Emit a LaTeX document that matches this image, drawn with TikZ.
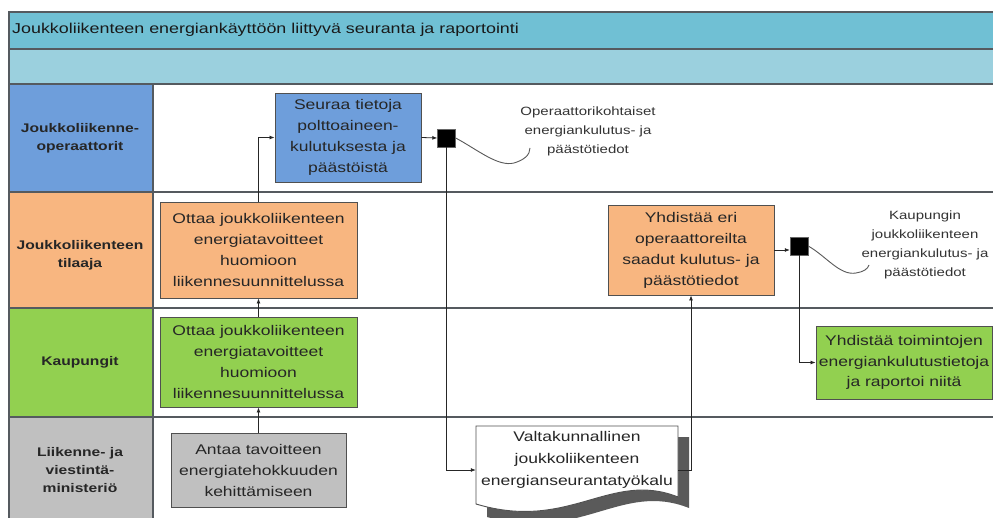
\documentclass[tikz,border=0pt]{standalone}
\usepackage{fontspec}
\setmainfont{Liberation Sans}[FakeStretch=1.25]
\usetikzlibrary{arrows.meta}
\definecolor{titlec}{RGB}{112,192,212}
\definecolor{subc}{RGB}{155,208,222}
\definecolor{bluec}{RGB}{110,158,219}
\definecolor{orangec}{RGB}{248,182,128}
\definecolor{greenc}{RGB}{146,208,80}
\definecolor{grayc}{RGB}{192,192,192}
\definecolor{frameline}{RGB}{85,90,95}
\definecolor{boxline}{RGB}{80,80,80}
\definecolor{shadowc}{RGB}{90,90,90}
\begin{document}
\begin{tikzpicture}[x=1pt,y=-1pt,
  box/.style={draw=boxline, line width=0.9pt, inner sep=0pt, align=center,
    font=\fontsize{14}{21}\selectfont, text=black!85},
  lanelab/.style={align=center, font=\bfseries\fontsize{12.5}{18}\selectfont, text=black!85},
  ann/.style={align=center, font=\fontsize{12}{19}\selectfont, text=black!80},
  conn/.style={draw=black!85, line width=0.8pt, -{Latex[length=5pt,width=4pt]}},
  annline/.style={draw=black!65, line width=0.9pt},
  sqbox/.style={fill=black, draw=black!60, minimum size=18pt, inner sep=0pt},
  frame/.style={draw=frameline, line width=1.4pt}]
\useasboundingbox (0,0) rectangle (993,518);
\clip (0,0) rectangle (993,518);
\fill[white] (0,0) rectangle (993,518);
% header bands
\filldraw[frame, fill=titlec] (9,12) rectangle (1000,49);
\filldraw[frame, fill=subc] (9,49) rectangle (1000,84);
\node[anchor=west, font=\fontsize{14.3}{16}\selectfont, text=black!90, inner sep=0pt] (title) at (12,30)
  {Joukkoliikenteen energiankäyttöön liittyvä seuranta ja raportointi};
% lanes
\filldraw[frame, fill=bluec] (9,84) rectangle (153,192);
\filldraw[frame, fill=orangec] (9,192) rectangle (153,308);
\filldraw[frame, fill=greenc] (9,308) rectangle (153,417);
\filldraw[frame, fill=grayc] (9,417) rectangle (153,530);
\draw[frame] (153,84) rectangle (1000,192);
\draw[frame] (153,192) rectangle (1000,308);
\draw[frame] (153,308) rectangle (1000,417);
\draw[frame] (153,417) rectangle (1000,530);
% lane labels
\node[lanelab] (l1) at (80,138) {Joukkoliikenne-\\operaattorit};
\node[lanelab] (l2) at (80,255) {Joukkoliikenteen\\tilaaja};
\node[lanelab] (l3) at (80,362) {Kaupungit};
\node[lanelab] (l4) at (80,470) {Liikenne- ja\\viestintä-\\ministeriö};
% boxes
\node[box, fill=bluec, minimum width=146pt, minimum height=89pt] (seuraa) at (348,137.5)
  {Seuraa tietoja\\polttoaineen-\\kulutuksesta ja\\päästöistä};
\node[box, fill=orangec, minimum width=197pt, minimum height=96pt] (tilaaja1) at (258.5,250)
  {Ottaa joukkoliikenteen\\energiatavoitteet\\huomioon\\liikennesuunnittelussa};
\node[box, fill=greenc, minimum width=197pt, minimum height=90pt] (kaup1) at (258.5,362)
  {Ottaa joukkoliikenteen\\energiatavoitteet\\huomioon\\liikennesuunnittelussa};
\node[box, fill=grayc, minimum width=175pt, minimum height=74pt] (lvm) at (258.5,470)
  {Antaa tavoitteen\\energiatehokkuuden\\kehittämiseen};
\node[box, fill=orangec, minimum width=166pt, minimum height=90pt] (tilaaja2) at (691,250)
  {Yhdistää eri\\operaattoreilta\\saadut kulutus- ja\\päästötiedot};
\node[box, fill=greenc, minimum width=176pt, minimum height=73pt, font=\fontsize{14}{20.5}\selectfont] (kaup2) at (904,362.5)
  {Yhdistää toimintojen\\energiankulutustietoja\\ja raportoi niitä};
% document shape
\fill[shadowc] (487,437) -- (689,437) -- (689,508) .. controls (621,481) and (581,543) .. (487,517) -- cycle;
\filldraw[fill=white, draw=boxline, line width=0.9pt]
  (476,426) -- (678,426) -- (678,497) .. controls (610,470) and (570,532) .. (476,504) -- cycle;
\node[minimum width=202pt, minimum height=88pt, inner sep=0pt] (doc) at (577,470) {};
\node[align=center, font=\fontsize{14}{22}\selectfont, text=black!85] (doctext) at (577,460)
  {Valtakunnallinen\\joukkoliikenteen\\energianseurantatyökalu};
% squares
\node[sqbox] (sq1) at (446.5,138) {};
\node[sqbox] (sq2) at (799,246) {};
% annotations
\node[ann] (ann1) at (588,131) {Operaattorikohtaiset\\energiankulutus- ja\\päästötiedot};
\node[ann] (ann2) at (925,245) {Kaupungin\\joukkoliikenteen\\energiankulutus- ja\\päästötiedot};
\coordinate (a1end) at (530,148);
\coordinate (a2end) at (869,265);
\draw[annline] (sq1.east) .. controls (478,150) and (498,167) .. (514,163)
  .. controls (524,160) and (530,155) .. (a1end);
\draw[annline] (sq2.east) .. controls (826,256) and (840,276) .. (856,273)
  .. controls (863,272) and (868,269) .. (a2end);
% connectors
\draw[conn] (lvm.north) -- (kaup1.south);
\draw[conn] (kaup1.north) -- (tilaaja1.south);
\draw[conn] (tilaaja1.north) |- (seuraa.west);
\draw[conn] (seuraa.east) -- (sq1.west);
\draw[conn] (sq1.south) |- (doc.west);
\draw[conn] (doc.east) -| (tilaaja2.south);
\draw[conn] (tilaaja2.east) -- (tilaaja2.east -| sq2.west);
\draw[conn] (sq2.south) |- (kaup2.west);
\end{tikzpicture}
\end{document}
